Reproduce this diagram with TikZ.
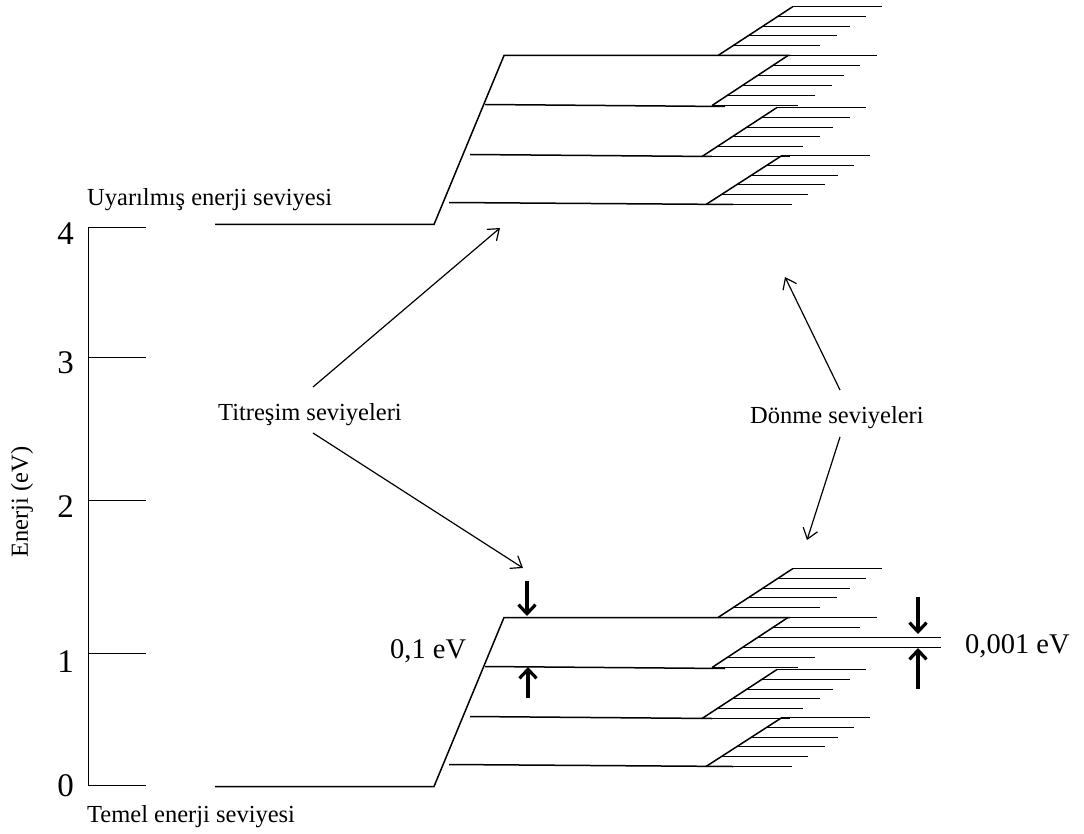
\documentclass[tikz,border=0pt]{standalone}
\usepackage{fontspec}
\setmainfont{Liberation Serif}
\usetikzlibrary{arrows.meta}
\newcommand\myladder[5]{% #1 top x, #2 top y, #3 bottom x, #4 bottom y, #5 right ends (top to bottom)
  \foreach \r [count=\k from 0] in {#5} {
    \pgfmathsetmacro\xx{#1+\k*(#3-#1)/5}
    \pgfmathsetmacro\yy{round(#2+\k*(#4-#2)/5)+0.5}
    \draw[lvl] (\xx,\yy) -- (\r,\yy);
  }
  \draw[lvl] (#1,#2+0.5) -- (#3,#4+0.5);
}
\newcommand\myblock[2]{% #1,#2 right ends of the 3rd and 4th lines of ladder 2
  \draw[lvl] (215,224.5) -- (434,224.5) -- (504,55.5) -- (790,55.5);
  \draw[lvl] (485,104.5) -- (725,106.5);
  \draw[lvl] (470,154.5) -- (712,156.5);
  \draw[lvl] (449,202.5) -- (733,204.5);
  \myladder{793}{6}{718}{55}{882,866,850,837,820,790}
  \myladder{788}{55}{712}{105}{877,860,#1,#2,815,798}
  \myladder{777}{107}{702}{156}{866,850,833,820,803,790}
  \myladder{782}{155}{706}{204}{870,854,838,825,808,792}
}
\begin{document}
\begin{tikzpicture}[x=1pt,y=-1pt,
  lvl/.style={line width=1.5pt, line cap=butt},
  lab/.style={font=\fontsize{24.5}{28}\selectfont, inner sep=0pt},
  num/.style={font=\fontsize{28.5}{32}\selectfont, inner sep=0pt},
  axnum/.style={font=\fontsize{33}{36}\selectfont, inner sep=0pt},
  thinarrow/.style={-{Straight Barb[length=10pt,width=15pt]}, line width=1.2pt},
  thickarrow/.style={-{Straight Barb[length=9pt,width=17pt]}, line width=3.2pt}]
\useasboundingbox (0,0) rectangle (1084,834);

% energy axis
\draw[lvl] (146,227.5) -- (88.5,227.5) -- (88.5,785.5) -- (146,785.5);
\draw[lvl] (88.5,357.5) -- (146,357.5);
\draw[lvl] (88.5,500.5) -- (146,500.5);
\draw[lvl] (88.5,653.5) -- (146,653.5);
\node[axnum, anchor=base] (n4) at (65.5,245) {4};
\node[axnum, anchor=base] (n3) at (65.5,373) {3};
\node[axnum, anchor=base] (n2) at (65.5,517) {2};
\node[axnum, anchor=base] (n1) at (65.5,672) {1};
\node[axnum, anchor=base] (n0) at (65.5,796) {0};
\node[lab, rotate=90] (ax) at (22,502) {Enerji (eV)};

% level blocks
\myblock{844}{832}
\begin{scope}[shift={(0,562)}]
\myblock{941}{941}
\end{scope}

% labels
\node[lab, anchor=base west] (exc) at (87,206) {Uyarılmış enerji seviyesi};
\node[lab, anchor=base west] (gnd) at (87,822) {Temel enerji seviyesi};
\node[lab, anchor=base west] (tit) at (218,420) {Titreşim seviyeleri};
\node[lab, anchor=base west] (don) at (750,423) {Dönme seviyeleri};
\node[num, anchor=base west] (v1) at (390,658) {0,1 eV};
\node[num, anchor=base west] (v2) at (965,653) {0,001 eV};

% pointer arrows
\coordinate (ta) at (313,387); \coordinate (tA) at (500,228);
\coordinate (tb) at (313,433); \coordinate (tB) at (523,568);
\coordinate (da) at (840,390); \coordinate (dA) at (785,277);
\coordinate (db) at (840,437); \coordinate (dB) at (807,540);
\draw[thinarrow] (ta) -- (tA);
\draw[thinarrow] (tb) -- (tB);
\draw[thinarrow] (da) -- (dA);
\draw[thinarrow] (db) -- (dB);

% spacing arrows
\coordinate (pa) at (527,581); \coordinate (pA) at (527,616);
\coordinate (pb) at (528,698); \coordinate (pB) at (528,667);
\coordinate (qa) at (918,597); \coordinate (qA) at (918,634);
\coordinate (qb) at (918,689); \coordinate (qB) at (918,648);
\draw[thickarrow] (pa) -- (pA);
\draw[thickarrow] (pb) -- (pB);
\draw[thickarrow] (qa) -- (qA);
\draw[thickarrow] (qb) -- (qB);
\end{tikzpicture}
\end{document}
